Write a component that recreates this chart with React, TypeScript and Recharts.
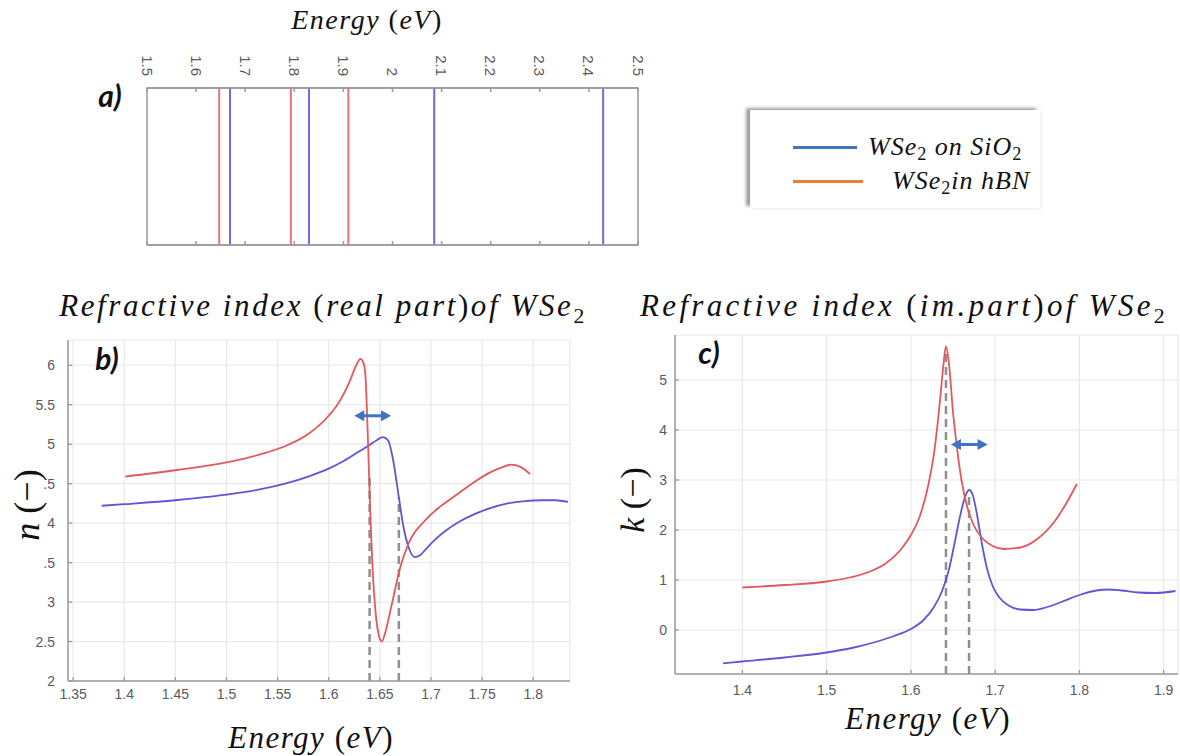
import React from 'react';
import { ComposedChart, LineChart, Line, XAxis, YAxis, CartesianGrid, ReferenceLine, ReferenceArea } from 'recharts';

const RED = '#e4575c';
const BLUE = '#5d57d8';
const ARROW = '#3d72c6';
const DASH = '#8f8f8f';
const TICK = '#5a5a5a';
const GRID = '#e8e8e8';
const AXIS = '#9a9a9a';
const mathFont = "'Liberation Serif', 'Times New Roman', serif";
const sansFont = "'Liberation Sans', Arial, sans-serif";
const labelFont = "Lato, 'Open Sans', sans-serif";

// a) resonance energies (eV)
const peaksSiO2 = [1.669, 1.83, 2.085, 2.429];
const peaksHBN = [1.647, 1.793, 1.91];
const ticksA = [1.5, 1.6, 1.7, 1.8, 1.9, 2, 2.1, 2.2, 2.3, 2.4, 2.5];

const legendItems = [
  { label: 'WSe_2 on SiO_2', color: '#4472c4', lineW: 64, gap: 11 },
  { label: 'WSe_2in hBN', color: '#ed7d31', lineW: 70, gap: 29 },
];

// b) real part n, [energy, n]
const nSiO2 = [
  [1.378, 4.22], [1.4, 4.24], [1.45, 4.29], [1.5, 4.36], [1.53, 4.42], [1.56, 4.51], [1.58, 4.59],
  [1.6, 4.69], [1.615, 4.79], [1.63, 4.91], [1.64, 4.99], [1.647, 5.05], [1.653, 5.09], [1.658, 5.05],
  [1.663, 4.8], [1.668, 4.38], [1.673, 3.96], [1.678, 3.7], [1.684, 3.57], [1.689, 3.59], [1.695, 3.67],
  [1.704, 3.79], [1.715, 3.91], [1.728, 4.02], [1.742, 4.11], [1.758, 4.19], [1.775, 4.25], [1.792, 4.28],
  [1.808, 4.29], [1.822, 4.29], [1.834, 4.27],
];
const nHBN = [
  [1.401, 4.59], [1.45, 4.67], [1.5, 4.77], [1.53, 4.86], [1.56, 4.99], [1.58, 5.13], [1.6, 5.36],
  [1.61, 5.53], [1.62, 5.78], [1.627, 6.0], [1.631, 6.08], [1.634, 6.03], [1.636, 5.85], [1.638, 5.2],
  [1.6395, 4.6], [1.641, 4.0], [1.643, 3.4], [1.646, 2.85], [1.649, 2.58], [1.652, 2.5], [1.655, 2.6],
  [1.661, 2.93], [1.67, 3.44], [1.678, 3.74], [1.694, 4.03], [1.708, 4.2], [1.723, 4.34], [1.74, 4.5],
  [1.756, 4.63], [1.77, 4.71], [1.778, 4.74], [1.788, 4.71], [1.797, 4.62],
];
const xTicksB = [1.35, 1.4, 1.45, 1.5, 1.55, 1.6, 1.65, 1.7, 1.75, 1.8];
const yTicksB = [2, 2.5, 3, 3.5, 4, 4.5, 5, 5.5, 6];
const yLabelsB = ['2', '2.5', '3', '.5', '4', '.5', '5', '5.5', '6'];
const dashesB = [[1.64, 4.62], [1.6686, 4.33]];
const shiftB = [1.625, 1.661, 5.36];

// c) imaginary part k, [energy, k]
const kSiO2 = [
  [1.377, -0.667], [1.4, -0.63], [1.45, -0.55], [1.5, -0.45], [1.53, -0.36], [1.56, -0.23], [1.58, -0.12],
  [1.6, 0.02], [1.615, 0.2], [1.627, 0.45], [1.637, 0.78], [1.645, 1.2], [1.652, 1.75], [1.658, 2.25],
  [1.664, 2.65], [1.669, 2.8], [1.673, 2.72], [1.678, 2.35], [1.684, 1.75], [1.69, 1.25], [1.697, 0.88],
  [1.705, 0.65], [1.715, 0.5], [1.73, 0.41], [1.745, 0.4], [1.76, 0.45], [1.78, 0.57], [1.8, 0.7],
  [1.82, 0.79], [1.835, 0.81], [1.85, 0.79], [1.87, 0.75], [1.89, 0.74], [1.914, 0.78],
];
const kHBN = [
  [1.4, 0.85], [1.45, 0.9], [1.5, 0.97], [1.53, 1.06], [1.55, 1.16], [1.57, 1.33], [1.59, 1.65],
  [1.6, 1.9], [1.61, 2.25], [1.62, 2.85], [1.628, 3.6], [1.634, 4.5], [1.638, 5.2], [1.6416, 5.67],
  [1.645, 5.35], [1.65, 4.35], [1.655, 3.6], [1.66, 3.0], [1.667, 2.45], [1.675, 2.08], [1.685, 1.83],
  [1.697, 1.68], [1.71, 1.62], [1.73, 1.65], [1.75, 1.82], [1.77, 2.16], [1.785, 2.55], [1.797, 2.92],
];
const xTicksC = [1.4, 1.5, 1.6, 1.7, 1.8, 1.9];
const yTicksC = [0, 1, 2, 3, 4, 5];
const dashesC = [[1.6416, 5.6], [1.669, 2.66]];
const shiftC = [1.6475, 1.691, 3.71];

const toPts = (arr: number[][]) => arr.map(([e, v]) => ({ e, v }));

// math-style text: italic letters, upright brackets, "_2" is a subscript
function Mt({ text, size, spacing = 0 }: { text: string; size: number; spacing?: number }) {
  const parts = text.split(/(_\d|[()−])/).filter(Boolean);
  return (
    <span style={{ fontFamily: mathFont, fontSize: size, letterSpacing: spacing, whiteSpace: 'nowrap', color: '#111' }}>
      {parts.map((p, i) => {
        if (p.startsWith('_'))
          return <span key={i} style={{ fontSize: '0.7em', position: 'relative', top: '0.3em' }}>{p.slice(1)}</span>;
        if (p === '(' || p === ')' || p === '−') return <span key={i}>{p}</span>;
        return <span key={i} style={{ fontStyle: 'italic' }}>{p}</span>;
      })}
    </span>
  );
}

function Place({ cx, cy, rotate = 0, children }: { cx: number; cy: number; rotate?: number; children: React.ReactNode }) {
  return (
    <div style={{ position: 'absolute', left: cx, top: cy, lineHeight: 1, whiteSpace: 'nowrap', transform: `translate(-50%, -50%) rotate(${rotate}deg)` }}>
      {children}
    </div>
  );
}

function PanelTag({ cx, cy, text }: { cx: number; cy: number; text: string }) {
  return (
    <Place cx={cx} cy={cy}>
      <span style={{ fontFamily: labelFont, fontWeight: 700, fontStyle: 'italic', fontSize: 30, color: '#111' }}>{text}</span>
    </Place>
  );
}

// top axis of panel a: rotated label outside, short tick inside the box
function RotatedTick({ x, y, payload }: any) {
  return (
    <g>
      <line x1={x} y1={y + 12} x2={x} y2={y + 16} stroke={AXIS} strokeWidth={1.5} />
      <text x={x} y={y} transform={`rotate(90 ${x} ${y})`} textAnchor="end" dominantBaseline="central" fill={TICK} fontSize={15} fontFamily={sansFont}>
        {payload.value}
      </text>
    </g>
  );
}

function BottomMark({ x, y }: any) {
  return <line x1={x} y1={y - 2} x2={x} y2={y - 6} stroke={AXIS} strokeWidth={1.5} />;
}

// tick with label outside and a short mark pointing into the plot
function InTick({ x, y, payload, orient, gap, fmt }: any) {
  const label = fmt ? fmt(payload.value) : String(payload.value);
  if (orient === 'left') {
    return (
      <g>
        <line x1={x + gap} y1={y} x2={x + gap + 4} y2={y} stroke={AXIS} strokeWidth={1.3} />
        <text x={x} y={y} dy="0.355em" textAnchor="end" fill={TICK} fontSize={14} fontFamily={sansFont}>{label}</text>
      </g>
    );
  }
  return (
    <g>
      <line x1={x} y1={y - gap} x2={x} y2={y - gap - 4} stroke={AXIS} strokeWidth={1.3} />
      <text x={x} y={y} dy="0.71em" textAnchor="middle" fill={TICK} fontSize={14} fontFamily={sansFont}>{label}</text>
    </g>
  );
}

function DoubleArrow(props: any) {
  const { x1, y1, x2, y2 } = props;
  const h = 10;
  const w = 5.5;
  return (
    <g>
      <line x1={x1 + h - 1} y1={y1} x2={x2 - h + 1} y2={y2} stroke={ARROW} strokeWidth={3} />
      <polygon points={`${x1},${y1} ${x1 + h},${y1 - w} ${x1 + h},${y1 + w}`} fill={ARROW} />
      <polygon points={`${x2},${y2} ${x2 - h},${y2 - w} ${x2 - h},${y2 + w}`} fill={ARROW} />
    </g>
  );
}

function PanelA() {
  return (
    <div style={{ position: 'absolute', left: 90, top: 0 }}>
      <ComposedChart width={560} height={260} margin={{ top: 48, right: 12, left: 57, bottom: 10 }}>
        <XAxis xAxisId="top" orientation="top" type="number" dataKey="e" domain={[1.5, 2.5]} allowDataOverflow ticks={ticksA}
          height={40} tickSize={0} tickMargin={12} tickLine={false} tick={<RotatedTick />} stroke={AXIS} strokeWidth={1.5} interval={0} />
        <XAxis xAxisId="bot" orientation="bottom" type="number" dataKey="e" domain={[1.5, 2.5]} allowDataOverflow ticks={ticksA}
          height={5} tickSize={0} tickMargin={2} tickLine={false} tick={<BottomMark />} stroke={AXIS} strokeWidth={1.5} interval={0} />
        <YAxis yAxisId="l" orientation="left" type="number" domain={[0, 1]} allowDataOverflow width={0} tick={false} tickLine={false} stroke={AXIS} strokeWidth={1.5} />
        <YAxis yAxisId="r" orientation="right" type="number" domain={[0, 1]} allowDataOverflow width={0} tick={false} tickLine={false} stroke={AXIS} strokeWidth={1.5} />
        <ReferenceArea xAxisId="top" yAxisId="l" x1={1.5} x2={2.5} y1={0} y2={1} fill="none" stroke={AXIS} strokeWidth={1.5} />
        {peaksHBN.map((e) => (
          <Line key={'h' + e} xAxisId="top" yAxisId="l" data={[{ e, v: 0 }, { e, v: 1 }]} dataKey="v" type="linear"
            stroke="#e87479" strokeWidth={2} dot={false} isAnimationActive={false} />
        ))}
        {peaksSiO2.map((e) => (
          <Line key={'s' + e} xAxisId="top" yAxisId="l" data={[{ e, v: 0 }, { e, v: 1 }]} dataKey="v" type="linear"
            stroke="#6f6ae0" strokeWidth={2} dot={false} isAnimationActive={false} />
        ))}
      </ComposedChart>
    </div>
  );
}

function Legend() {
  return (
    <div style={{ position: 'absolute', left: 750, top: 110, width: 290, height: 98, background: '#fff',
      boxShadow: '-4px -2px 3px rgba(0,0,0,0.38), 2px 1px 3px rgba(0,0,0,0.06)' }}>
      {legendItems.map((it, i) => (
        <div key={it.label} style={{ position: 'absolute', left: 43, top: 24 + i * 34, display: 'flex', alignItems: 'center' }}>
          <div style={{ width: it.lineW, height: 3, background: it.color }} />
          <div style={{ marginLeft: it.gap, lineHeight: 1 }}>
            <Mt text={it.label} size={26} spacing={1} />
          </div>
        </div>
      ))}
    </div>
  );
}

function PanelB() {
  return (
    <div style={{ position: 'absolute', left: 0, top: 330 }}>
      <LineChart width={600} height={420} margin={{ top: 10, right: 30, left: 18, bottom: 39 }}>
        <CartesianGrid stroke={GRID} strokeWidth={1.2} />
        <XAxis type="number" dataKey="e" domain={[1.345, 1.836]} allowDataOverflow ticks={xTicksB} interval={0} height={30}
          tickSize={0} tickMargin={8} tickLine={false} tick={<InTick orient="bottom" gap={8} />} stroke={AXIS} strokeWidth={1.5} />
        <YAxis type="number" domain={[2, 6.32]} allowDataOverflow ticks={yTicksB} interval={0} width={50}
          tickSize={0} tickMargin={13} tickLine={false} stroke={AXIS} strokeWidth={1.5}
          tick={<InTick orient="left" gap={13} fmt={(v: number) => yLabelsB[yTicksB.indexOf(v)]} />} />
        {dashesB.map(([e, top]) => (
          <ReferenceLine key={e} segment={[{ x: e, y: 2 }, { x: e, y: top }]} stroke={DASH} strokeWidth={2.5} strokeDasharray="8 5" />
        ))}
        <Line data={toPts(nSiO2)} dataKey="v" type="monotone" stroke={BLUE} strokeWidth={1.8} dot={false} isAnimationActive={false} />
        <Line data={toPts(nHBN)} dataKey="v" type="monotone" stroke={RED} strokeWidth={1.8} dot={false} isAnimationActive={false} />
        <ReferenceLine segment={[{ x: shiftB[0], y: shiftB[2] }, { x: shiftB[1], y: shiftB[2] }]} shape={<DoubleArrow />} />
      </LineChart>
    </div>
  );
}

function PanelC() {
  return (
    <div style={{ position: 'absolute', left: 600, top: 325 }}>
      <LineChart width={580} height={420} margin={{ top: 10, right: 2, left: 35, bottom: 41 }}>
        <CartesianGrid stroke={GRID} strokeWidth={1.2} />
        <XAxis type="number" dataKey="e" domain={[1.32, 1.917]} allowDataOverflow ticks={xTicksC} interval={0} height={30}
          tickSize={0} tickMargin={11} tickLine={false} tick={<InTick orient="bottom" gap={11} />} stroke={AXIS} strokeWidth={1.5} />
        <YAxis type="number" domain={[-0.88, 5.9]} allowDataOverflow ticks={yTicksC} interval={0} width={40}
          tickSize={0} tickMargin={8} tickLine={false} tick={<InTick orient="left" gap={8} />} stroke={AXIS} strokeWidth={1.5} />
        {dashesC.map(([e, top]) => (
          <ReferenceLine key={e} segment={[{ x: e, y: -0.88 }, { x: e, y: top }]} stroke={DASH} strokeWidth={2.5} strokeDasharray="8 5" />
        ))}
        <Line data={toPts(kSiO2)} dataKey="v" type="monotone" stroke={BLUE} strokeWidth={1.8} dot={false} isAnimationActive={false} />
        <Line data={toPts(kHBN)} dataKey="v" type="monotone" stroke={RED} strokeWidth={1.8} dot={false} isAnimationActive={false} />
        <ReferenceLine segment={[{ x: shiftC[0], y: shiftC[2] }, { x: shiftC[1], y: shiftC[2] }]} shape={<DoubleArrow />} />
      </LineChart>
    </div>
  );
}

export default function App() {
  return (
    <div style={{ position: 'absolute', left: 0, top: 0, width: 1180, height: 756, background: '#fff', overflow: 'hidden' }}>
      <Place cx={367} cy={20}><Mt text="Energy (eV)" size={28} spacing={1.5} /></Place>
      <PanelTag cx={110} cy={95} text="a)" />
      <PanelA />
      <Legend />

      <Place cx={323} cy={305}><Mt text="Refractive index (real part)of WSe_2" size={31} spacing={2.6} /></Place>
      <PanelB />
      <PanelTag cx={107} cy={358} text="b)" />
      <Place cx={27} cy={505} rotate={-90}><Mt text="n (−)" size={36} /></Place>
      <Place cx={311} cy={737}><Mt text="Energy (eV)" size={31} spacing={1.5} /></Place>

      <Place cx={904} cy={305}><Mt text="Refractive index (im.part)of WSe_2" size={31} spacing={3.3} /></Place>
      <PanelC />
      <PanelTag cx={709} cy={352} text="c)" />
      <Place cx={633} cy={500} rotate={-90}><Mt text="k (−)" size={34} /></Place>
      <Place cx={928} cy={718}><Mt text="Energy (eV)" size={31} spacing={1.5} /></Place>
    </div>
  );
}
